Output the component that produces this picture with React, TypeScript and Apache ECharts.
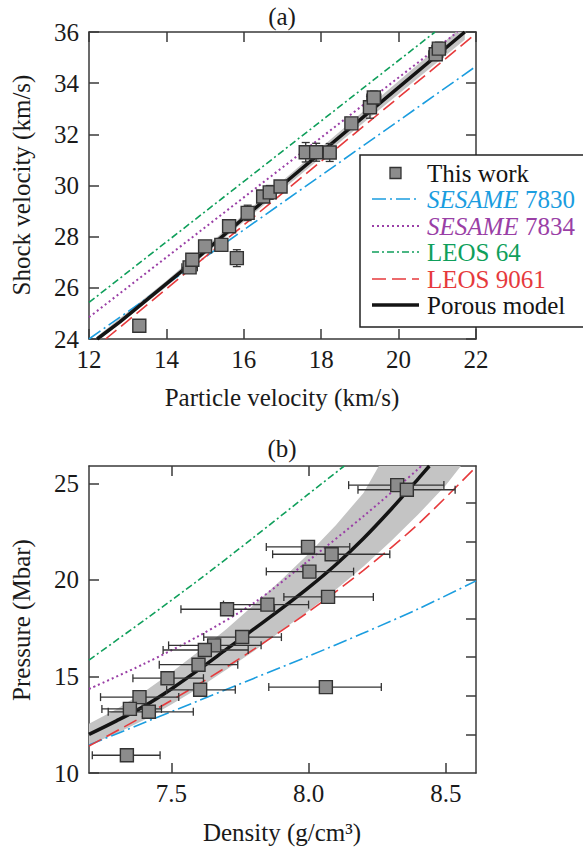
import React, { useEffect, useRef } from "react";
import * as echarts from "echarts";

const FONT = "'Liberation Serif', 'Times New Roman', Times, serif";
const FS = 25;
const BLUE = "#1b9ddf";
const PURPLE = "#9a3fa6";
const GREEN = "#0f9f5b";
const RED = "#e63a3c";
const BLACK = "#141414";
const BAND = "#c4c4c4";
const AXIS = "#3a3a3a";
const ERR = "#333333";
const MARK_FILL = "#8c8c8c";

// ---------------- Panel (a): shock velocity vs particle velocity ----------------
const upA = [13.3, 14.6, 14.67, 15.0, 15.42, 15.82, 15.62, 16.1, 16.5, 16.67, 16.95, 17.6, 17.87, 18.22, 18.78, 19.26, 19.36, 20.96, 21.04];
const usA = [24.52, 26.8, 27.1, 27.62, 27.68, 27.16, 28.41, 28.93, 29.57, 29.73, 29.96, 31.3, 31.3, 31.29, 32.43, 33.06, 33.44, 35.13, 35.35];
const upErrA = [0.1, 0.2, 0.1, 0.1, 0.1, 0.1, 0.1, 0.1, 0.1, 0.1, 0.1, 0.1, 0.1, 0.1, 0.1, 0.12, 0.18, 0.18, 0.18];
const usErrA = [0.15, 0.2, 0.2, 0.2, 0.2, 0.33, 0.2, 0.3, 0.2, 0.27, 0.2, 0.38, 0.35, 0.35, 0.2, 0.43, 0.25, 0.25, 0.25];

const ses7830A_x = [12, 22];
const ses7830A_y = [24.0, 34.66];
const ses7834A_x = [12, 21.52];
const ses7834A_y = [24.85, 36];
const leos64A_x = [12, 20.94];
const leos64A_y = [25.43, 36];
const leos9061A_x = [12.43, 22];
const leos9061A_y = [24, 35.94];
const porousA_x = [12.21, 12.8, 14.5, 16.94, 19.5, 21.71];
const porousA_y = [24, 24.67, 26.78, 29.95, 33.2, 36];
const bandA_x = [12.21, 14, 16, 18, 20, 21.71];
const bandA_lo = [23.9, 26.04, 28.58, 31.09, 33.58, 35.7];
const bandA_hi = [24.1, 26.28, 28.88, 31.49, 34.08, 36.3];

// ---------------- Panel (b): pressure vs density ----------------
const rhoB = [8.323, 8.358, 7.998, 8.084, 8.003, 8.071, 7.85, 7.703, 7.758, 7.656, 7.622, 7.599, 7.486, 7.605, 8.063, 7.384, 7.349, 7.418, 7.338];
const pB = [24.91, 24.67, 21.71, 21.33, 20.43, 19.12, 18.72, 18.48, 17.04, 16.61, 16.37, 15.61, 14.91, 14.31, 14.45, 13.93, 13.32, 13.17, 10.92];
const rhoLoB = [8.146, 8.18, 7.846, 7.869, 7.846, 7.91, 7.69, 7.535, 7.618, 7.49, 7.47, 7.456, 7.36, 7.483, 7.855, 7.242, 7.247, 7.27, 7.212];
const rhoHiB = [8.493, 8.534, 8.15, 8.296, 8.164, 8.236, 8.0, 7.876, 7.901, 7.827, 7.78, 7.742, 7.617, 7.733, 8.265, 7.527, 7.464, 7.58, 7.459];

const ses7830B_x = [7.2, 7.4, 7.6, 7.8, 8.0, 8.2, 8.4, 8.61];
const ses7830B_y = [11.45, 12.6, 13.75, 14.9, 16.05, 17.25, 18.5, 19.95];
const ses7834B_x = [7.2, 7.4, 7.6, 7.8, 8.0, 8.2, 8.4, 8.41];
const ses7834B_y = [14.35, 15.65, 17.1, 18.8, 21.0, 23.3, 25.75, 25.9];
const leos64B_x = [7.2, 7.4, 7.6, 7.8, 8.0, 8.13];
const leos64B_y = [15.85, 17.9, 20.0, 22.2, 24.45, 25.9];
const leos9061B_x = [7.2, 7.4, 7.6, 7.8, 8.0, 8.2, 8.4, 8.61];
const leos9061B_y = [11.4, 12.95, 14.6, 16.4, 18.35, 20.5, 22.9, 25.85];
const porousB_x = [7.2, 7.3, 7.4, 7.5, 7.6, 7.7, 7.8, 7.9, 8.0, 8.1, 8.2, 8.3, 8.4, 8.44];
const porousB_y = [12.0, 12.7, 13.45, 14.35, 15.35, 16.4, 17.45, 18.5, 19.6, 20.8, 22.15, 23.65, 25.25, 25.9];
const bandBUp_x = [7.2, 7.3, 7.4, 7.5, 7.6, 7.7, 7.8, 7.9, 8.0, 8.1, 8.2, 8.256];
const bandBUp_y = [12.55, 13.3, 14.2, 15.2, 16.3, 17.45, 18.7, 20.0, 21.35, 22.85, 24.5, 25.9];
const bandBLo_x = [7.2, 7.3, 7.4, 7.5, 7.6, 7.7, 7.8, 7.9, 8.0, 8.1, 8.2, 8.3, 8.4, 8.5, 8.555];
const bandBLo_y = [11.45, 12.05, 12.75, 13.55, 14.4, 15.35, 16.3, 17.35, 18.4, 19.5, 20.7, 22.0, 23.4, 24.9, 25.9];

const xTicksB = [7.5, 8.0, 8.5];
const yTicksB = [10, 15, 20, 25];
const yMinorB = [12, 14, 16, 18, 20, 22, 24];

const zip = (xs: number[], ys: number[]) => xs.map((x, i) => [x, ys[i]]);

const errRender = (params: any, api: any) => {
  const x = api.value(0);
  const y = api.value(1);
  const xl = api.value(2);
  const xh = api.value(3);
  const yl = api.value(4);
  const yh = api.value(5);
  const style = { stroke: ERR, lineWidth: 1.3, fill: "none" };
  const c = 4;
  const children: any[] = [];
  if (xh > xl) {
    const a = api.coord([xl, y]);
    const b = api.coord([xh, y]);
    children.push({ type: "line", shape: { x1: a[0], y1: a[1], x2: b[0], y2: b[1] }, style });
    children.push({ type: "line", shape: { x1: a[0], y1: a[1] - c, x2: a[0], y2: a[1] + c }, style });
    children.push({ type: "line", shape: { x1: b[0], y1: b[1] - c, x2: b[0], y2: b[1] + c }, style });
  }
  if (yh > yl) {
    const a = api.coord([x, yl]);
    const b = api.coord([x, yh]);
    children.push({ type: "line", shape: { x1: a[0], y1: a[1], x2: b[0], y2: b[1] }, style });
    children.push({ type: "line", shape: { x1: a[0] - c, y1: a[1], x2: a[0] + c, y2: a[1] }, style });
    children.push({ type: "line", shape: { x1: b[0] - c, y1: b[1], x2: b[0] + c, y2: b[1] }, style });
  }
  return { type: "group", children };
};

const bandRender = (upper: number[][], lower: number[][]) => (params: any, api: any) => {
  if (params.dataIndex !== 0) return null;
  const pts = upper.map((p) => api.coord(p)).concat(lower.slice().reverse().map((p) => api.coord(p)));
  return { type: "polygon", shape: { points: pts }, style: { fill: BAND, stroke: "none" } };
};

const axisLine = { show: true, onZero: false, lineStyle: { color: AXIS, width: 1.5 } };
const tick = { show: true, inside: true, length: 10, lineStyle: { color: AXIS, width: 1.5 } };
const label = { fontFamily: FONT, fontSize: FS, color: "#1a1a1a" };

const lineSeries = (name: string, xi: number, data: number[][], color: string, width: number, type: any, z: number, smooth: any = false) => ({
  name,
  type: "line",
  xAxisIndex: xi,
  yAxisIndex: xi,
  data,
  showSymbol: false,
  symbol: "none",
  smooth,
  clip: true,
  lineStyle: { color, width, type, cap: "butt" },
  z,
  silent: true,
});

const legendRows = [
  { y: 173, kind: "marker", text: "{n|This work}", color: BLACK, dash: null as any, width: 0 },
  { y: 199, kind: "line", text: "{i|SESAME}{n| 7830}", color: BLUE, dash: [14, 4, 2, 4], width: 1.6 },
  { y: 226, kind: "line", text: "{i|SESAME}{n| 7834}", color: PURPLE, dash: [2, 3], width: 2 },
  { y: 252, kind: "line", text: "{n|LEOS 64}", color: GREEN, dash: [7, 3, 2, 3], width: 1.6 },
  { y: 279, kind: "line", text: "{n|LEOS 9061}", color: RED, dash: [14, 6], width: 1.6 },
  { y: 305, kind: "line", text: "{n|Porous model}", color: BLACK, dash: null, width: 3.5 },
];

const LZ = 100;
const legendEls: any[] = [
  { type: "rect", z: LZ, shape: { x: 360, y: 155, width: 240, height: 172 }, style: { fill: "#fff", stroke: "#222", lineWidth: 1.5 } },
];
legendRows.forEach((r) => {
  if (r.kind === "marker") {
    legendEls.push({ type: "rect", z: LZ + 1, shape: { x: 390, y: r.y - 5.5, width: 11, height: 11 }, style: { fill: MARK_FILL, stroke: ERR, lineWidth: 1.3 } });
  } else {
    legendEls.push({
      type: "line",
      z: LZ + 1,
      shape: { x1: 372, y1: r.y, x2: 419, y2: r.y },
      style: { stroke: r.color, lineWidth: r.width, lineDash: r.dash || undefined },
    });
  }
  legendEls.push({
    type: "text",
    z: LZ + 1,
    x: 427,
    y: r.y,
    style: {
      text: r.text,
      align: "left",
      verticalAlign: "middle",
      fill: r.color,
      fontFamily: FONT,
      fontSize: FS,
      rich: {
        i: { fontStyle: "italic", fontFamily: FONT, fontSize: FS, fill: r.color },
        n: { fontFamily: FONT, fontSize: FS, fill: r.color },
      },
    },
  });
});

const textEl = (text: string, x: number, y: number, rot = 0) => ({
  type: "text",
  z: LZ,
  x,
  y,
  rotation: rot,
  style: { text, align: "center", verticalAlign: "middle", fill: "#1a1a1a", fontFamily: FONT, fontSize: FS },
});

const option: any = {
  animation: false,
  backgroundColor: "#ffffff",
  grid: [
    { left: 89, top: 32, width: 387, height: 307 },
    { left: 89, top: 466, width: 387, height: 307 },
  ],
  xAxis: [
    { type: "value", gridIndex: 0, position: "bottom", min: 12, max: 22, interval: 2, axisLine, axisTick: tick, axisLabel: { ...label, margin: 8 }, splitLine: { show: false } },
    { type: "value", gridIndex: 0, position: "top", min: 12, max: 22, interval: 2, axisLine, axisTick: tick, axisLabel: { show: false }, splitLine: { show: false } },
    {
      type: "value", gridIndex: 1, position: "bottom", min: 7.2, max: 8.61, axisLine,
      axisTick: { ...tick, customValues: xTicksB },
      axisLabel: { ...label, margin: 8, customValues: xTicksB, formatter: (v: number) => v.toFixed(1) },
      splitLine: { show: false },
    },
    {
      type: "value", gridIndex: 1, position: "top", min: 7.2, max: 8.61, axisLine,
      axisTick: { ...tick, customValues: xTicksB }, axisLabel: { show: false, customValues: xTicksB }, splitLine: { show: false },
    },
  ],
  yAxis: [
    { type: "value", gridIndex: 0, position: "left", min: 24, max: 36, interval: 2, axisLine, axisTick: tick, axisLabel: { ...label, margin: 10 }, splitLine: { show: false } },
    { type: "value", gridIndex: 0, position: "right", min: 24, max: 36, interval: 2, axisLine, axisTick: tick, axisLabel: { show: false }, splitLine: { show: false } },
    {
      type: "value", gridIndex: 1, position: "left", min: 10, max: 25.9, axisLine,
      axisTick: { ...tick, customValues: yTicksB },
      axisLabel: { ...label, margin: 10, customValues: yTicksB },
      splitLine: { show: false },
    },
    {
      type: "value", gridIndex: 1, position: "right", min: 10, max: 25.9, axisLine,
      axisTick: { ...tick, customValues: yMinorB }, axisLabel: { show: false, customValues: yMinorB }, splitLine: { show: false },
    },
  ],
  series: [
    // Panel (a)
    {
      type: "custom", name: "bandA", xAxisIndex: 0, yAxisIndex: 0, clip: true, silent: true, z: 1,
      data: bandA_x.map((x, i) => [x, bandA_lo[i], bandA_hi[i]]),
      renderItem: bandRender(zip(bandA_x, bandA_hi), zip(bandA_x, bandA_lo)),
    },
    lineSeries("SESAME 7830", 0, zip(ses7830A_x, ses7830A_y), BLUE, 1.6, [14, 4, 2, 4], 3),
    lineSeries("SESAME 7834", 0, zip(ses7834A_x, ses7834A_y), PURPLE, 2, [2, 3], 3),
    lineSeries("LEOS 64", 0, zip(leos64A_x, leos64A_y), GREEN, 1.6, [7, 3, 2, 3], 3),
    lineSeries("LEOS 9061", 0, zip(leos9061A_x, leos9061A_y), RED, 1.6, [14, 6], 3),
    lineSeries("Porous model", 0, zip(porousA_x, porousA_y), BLACK, 3.5, "solid", 4),
    {
      type: "custom", name: "errA", xAxisIndex: 0, yAxisIndex: 0, silent: true, z: 5,
      data: upA.map((x, i) => [x, usA[i], x - upErrA[i], x + upErrA[i], usA[i] - usErrA[i], usA[i] + usErrA[i]]),
      encode: { x: 0, y: 1 },
      renderItem: errRender,
    },
    {
      type: "scatter", name: "This work", xAxisIndex: 0, yAxisIndex: 0, symbol: "rect", symbolSize: 13, z: 6, silent: true,
      data: zip(upA, usA),
      itemStyle: { color: MARK_FILL, borderColor: ERR, borderWidth: 1.4, opacity: 1 },
    },
    // Panel (b)
    {
      type: "custom", name: "bandB", xAxisIndex: 2, yAxisIndex: 2, clip: true, silent: true, z: 1,
      data: bandBUp_x.map((x, i) => [x, bandBUp_y[i]]),
      renderItem: bandRender(zip(bandBUp_x, bandBUp_y), zip(bandBLo_x, bandBLo_y)),
    },
    lineSeries("SESAME 7830 b", 2, zip(ses7830B_x, ses7830B_y), BLUE, 1.6, [14, 4, 2, 4], 3, 0.3),
    lineSeries("SESAME 7834 b", 2, zip(ses7834B_x, ses7834B_y), PURPLE, 2, [2, 3], 3, 0.3),
    lineSeries("LEOS 64 b", 2, zip(leos64B_x, leos64B_y), GREEN, 1.6, [7, 3, 2, 3], 3, 0.3),
    lineSeries("LEOS 9061 b", 2, zip(leos9061B_x, leos9061B_y), RED, 1.6, [14, 6], 3, 0.3),
    lineSeries("Porous model b", 2, zip(porousB_x, porousB_y), BLACK, 3.5, "solid", 4, 0.3),
    {
      type: "custom", name: "errB", xAxisIndex: 2, yAxisIndex: 2, silent: true, z: 5,
      data: rhoB.map((x, i) => [x, pB[i], rhoLoB[i], rhoHiB[i], pB[i], pB[i]]),
      encode: { x: 0, y: 1 },
      renderItem: errRender,
    },
    {
      type: "scatter", name: "This work b", xAxisIndex: 2, yAxisIndex: 2, symbol: "rect", symbolSize: 13, z: 6, silent: true,
      data: zip(rhoB, pB),
      itemStyle: { color: MARK_FILL, borderColor: ERR, borderWidth: 1.4, opacity: 1 },
    },
  ],
  graphic: {
    elements: [
      ...legendEls,
      textEl("(a)", 282, 16),
      textEl("Particle velocity (km/s)", 282, 397),
      textEl("Shock velocity (km/s)", 21, 185, Math.PI / 2),
      textEl("(b)", 282, 448),
      textEl("Density (g/cm\u00B3)", 282, 832),
      textEl("Pressure (Mbar)", 21, 620, Math.PI / 2),
    ],
  },
};

export default function App() {
  const ref = useRef<HTMLDivElement>(null);
  useEffect(() => {
    if (!ref.current) return;
    const chart = echarts.init(ref.current, null, { renderer: "svg" });
    chart.setOption(option);
    return () => chart.dispose();
  }, []);
  return (
    <div
      ref={ref}
      style={{ position: "absolute", left: 0, top: 0, width: 583, height: 849, background: "#fff" }}
    />
  );
}
